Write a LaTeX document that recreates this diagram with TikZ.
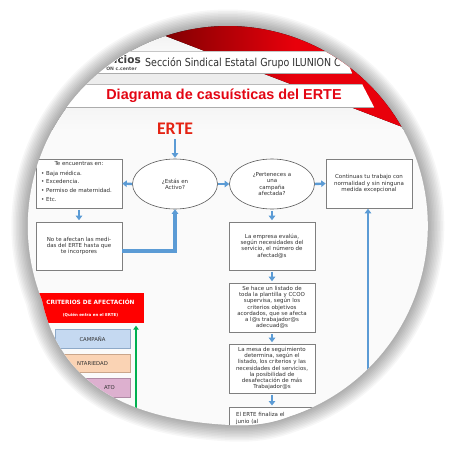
\documentclass[tikz,border=0pt]{standalone}
\usepackage{fontspec}
\setmainfont{DejaVu Sans}
\newfontfamily\hdrfont[FakeStretch=0.86]{DejaVu Sans}
\newfontfamily\arialf{Liberation Sans}
\newfontfamily\calibf{Carlito}
\usetikzlibrary{arrows.meta,shapes.geometric}
\definecolor{arrblue}{HTML}{5B9BD5}
\definecolor{boxgray}{HTML}{7F7F7F}
\definecolor{ellgray}{HTML}{595959}
\definecolor{txtgray}{HTML}{303030}
\definecolor{titlered}{HTML}{E30613}
\definecolor{ertered}{HTML}{E42313}
\definecolor{critred}{HTML}{FF0000}
\definecolor{campfill}{HTML}{C5D9F1}
\definecolor{campdraw}{HTML}{8EA9C8}
\definecolor{volfill}{HTML}{FAD3B4}
\definecolor{voldraw}{HTML}{C9A58A}
\definecolor{confill}{HTML}{DDB0CF}
\definecolor{condraw}{HTML}{B08AA5}
\definecolor{grn}{HTML}{00B050}
\definecolor{darkred}{HTML}{6E0000}
\definecolor{brightred}{HTML}{E8000B}
\def\contentpath{(42,300) arc[start angle=158.3,end angle=432,radius=200] .. controls (270,424) and (250,426) .. (230,425) .. controls (130,420) and (60,385) .. (42,300) -- cycle}
\begin{document}
\begin{tikzpicture}[x=1pt,y=-1pt,
  flowbox/.style={draw=boxgray, line width=0.6pt, fill=white, inner sep=0pt, minimum width=86pt, align=center, font=\fontsize{5.5}{6.2}\selectfont, text=txtgray},
  flowell/.style={ellipse, draw=ellgray, line width=0.6pt, fill=white, inner sep=0pt, minimum width=85pt, minimum height=50pt, align=center, font=\fontsize{5.5}{6.1}\selectfont, text=txtgray},
  txt/.style={inner sep=0pt, font=\fontsize{5.5}{6.2}\selectfont, text=txtgray},
  arr/.style={draw=arrblue, line width=2.4pt, -{Triangle[width=6.5pt,length=4.5pt]}},
  garr/.style={draw=grn, line width=2.4pt, -{Triangle[width=5.5pt,length=4pt]}},
  cbox/.style={line width=0.6pt, minimum width=75pt, minimum height=18.5pt, inner sep=0pt, font=\fontsize{5.3}{6}\selectfont, text=txtgray}
]
\useasboundingbox (0,0) rectangle (450,450);
\fill[white] (0,0) rectangle (450,450);
% soft shadow around the lens
\foreach \w in {3,6,...,33} { \draw[line width=\w pt, black, opacity=0.032] \contentpath; }
\begin{scope}
\clip \contentpath;
\fill[gray!4] (0,0) rectangle (450,450);
% header backgrounds
\fill[top color=gray!20, bottom color=gray!5] (0,0) rectangle (450,51);
\fill[gray!14] (0,73) rectangle (450,84);
\fill[top color=gray!8, bottom color=gray!4] (0,107) rectangle (450,130);
% red swoosh
\fill[left color=darkred, right color=brightred, middle color=brightred] (140,0) -- (450,0) -- (450,140) -- (405,128) -- (150,30) -- (140,20) -- cycle;
% header band
\fill[white] (0,51) -- (343,51) -- (352,73) -- (0,73) -- cycle;
\draw[gray!45, line width=0.6pt] (0,51) -- (343,51);
\draw[gray!65, line width=1pt] (0,73.5) -- (352,73.5);
\begin{scope}
\clip (0,51) -- (343,51) -- (352,73) -- (0,73) -- cycle;
\node[anchor=base west, inner sep=0pt, text=txtgray] (hdr) at (145,66) {\hdrfont\fontsize{11}{11}\selectfont Sección Sindical Estatal Grupo ILUNION C};
\node[anchor=base east, inner sep=0pt, text=black!75] (logo) at (141,63) {\bfseries\fontsize{10.5}{10.5}\selectfont vicios};
\node[anchor=base east, inner sep=0pt, text=black!65] (logosub) at (137,70) {\bfseries\fontsize{4.6}{4.6}\selectfont ON c.center};
\end{scope}
% title band
\fill[white] (0,84) -- (362,84) -- (374,107) -- (0,107) -- cycle;
\draw[gray!55, line width=0.8pt] (0,84) -- (362,84);
\draw[gray!65, line width=1pt] (0,107) -- (374,107);
\node[text=titlered, inner sep=0pt] (title) at (224,96) {\arialf\bfseries\fontsize{14.4}{14.4}\selectfont Diagrama de casuísticas del ERTE};
% ERTE
\node[text=ertered] (erte) at (175,129) {\calibf\bfseries\fontsize{17.7}{17.7}\selectfont ERTE};
% flow nodes
\node[flowell] (e1) at (175,184) {¿Estás en\\Activo?};
\node[flowell] (e2) at (272,184) {¿Perteneces a\\una\\campaña\\afectada?};
\node[flowbox, minimum height=49pt] (b1) at (79,183.5) {};
\node[txt] (b1h) at (79,164) {Te encuentras en:};
\node[txt, anchor=west, align=left, font=\fontsize{5.5}{8.7}\selectfont] (b1l) at (41,186) {• Baja médica.\\• Excedencia.\\• Permiso de maternidad.\\• Etc.};
\node[flowbox, minimum height=48pt] (b2) at (79,246) {No te afectan las medi-\\das del ERTE hasta que\\te incorpores};
\node[flowbox, minimum height=49pt] (b3) at (369,183.5) {Continuas tu trabajo con\\normalidad y sin ninguna\\medida excepcional};
\node[flowbox, minimum height=48pt] (b4) at (272,246) {La empresa evalúa,\\según necesidades del\\servicio, el número de\\afectad@s};
\node[flowbox, minimum height=49pt] (b5) at (272,307.5) {Se hace un listado de\\toda la plantilla y CCOO\\supervisa, según los\\criterios objetivos\\acordados, que se afecta\\a l@s trabajador@s\\adecuad@s};
\node[flowbox, minimum height=49pt] (b6) at (272,368.5) {La mesa de seguimiento\\determina, según el\\listado, los criterios y las\\necesidades del servicios,\\la posibilidad de\\desafectación de más\\Trabajador@s};
\node[flowbox, minimum height=50pt, anchor=north] (b7) at (272,407) {};
\node[txt, anchor=north west, align=left] (b7t) at (236,412.5) {El ERTE finaliza el\\junio (al};
% connectors
\draw[arr, shorten <=1pt, shorten >=1pt] (erte.south) -- (e1.north);
\draw[arr] (e1.west) -- (b1.east);
\draw[arr] (e1.east) -- (e2.west);
\draw[arr] (e2.east) -- (b3.west);
\draw[arr, shorten <=1.5pt, shorten >=1.5pt] (b1.south) -- (b2.north);
\draw[arr, line width=3.2pt] ([yshift=-5pt]b2.east) -| (e1.south);
\draw[arr, shorten <=1.5pt, shorten >=1.5pt] (e2.south) -- (b4.north);
\draw[arr, shorten <=1.5pt, shorten >=1.5pt] (b4.south) -- (b5.north);
\draw[arr, shorten <=1.5pt, shorten >=1.5pt] (b5.south) -- (b6.north);
\draw[arr, shorten <=1.5pt, shorten >=1.5pt] (b6.south) -- (b7.north);
\coordinate (vstart) at (368,445);
\draw[arr, line width=2.6pt, shorten >=0.5pt] (vstart) -- (vstart |- b3.south);
% criteria
\node[fill=critred, minimum width=107pt, minimum height=30pt, inner sep=0pt, text=white, align=center] (crit) at (90.5,308) {\bfseries\fontsize{5.8}{6.4}\selectfont CRITERIOS DE AFECTACIÓN\\[-0.5pt]{\bfseries\fontsize{4}{4.4}\selectfont (Quién entra en el ERTE)}};
\node[cbox, draw=campdraw, fill=campfill] (camp) at (92.5,339) {CAMPAÑA};
\node[cbox, draw=voldraw, fill=volfill] (vol) at (92.5,363.5) {};
\node[txt, anchor=west, font=\fontsize{5.3}{6}\selectfont] (volt) at (77,363.5) {NTARIEDAD};
\node[cbox, draw=condraw, fill=confill] (con) at (92.5,388) {};
\node[txt, anchor=west, font=\fontsize{5.3}{6}\selectfont] (cont) at (104,388) {ATO};
\coordinate (gstart) at (136,415);
\draw[garr, shorten >=2.5pt] (gstart) -- (gstart |- crit.south);
\end{scope}
\end{tikzpicture}
\end{document}
